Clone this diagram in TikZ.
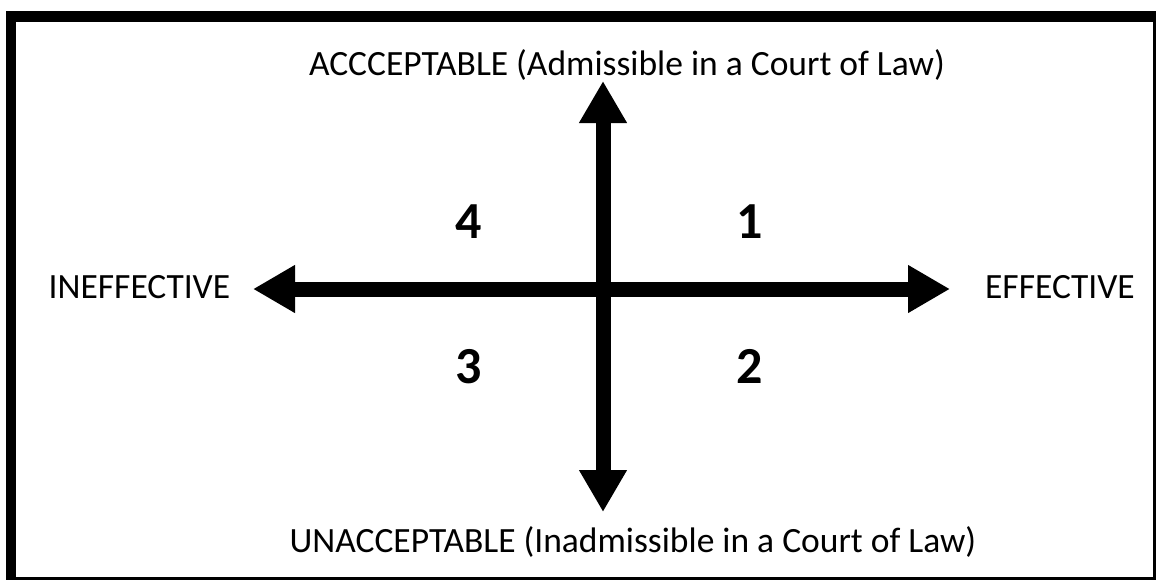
\documentclass[tikz,border=0pt]{standalone}
\usepackage{fontspec}
\setmainfont{Carlito}
\usetikzlibrary{arrows.meta}

\begin{document}
\begin{tikzpicture}[
    x=1pt, y=-1pt,
    axis/.style={line width=15pt, {Triangle[width=45pt,length=42pt]}-{Triangle[width=45pt,length=42pt]}},
    every node/.style={font=\fontsize{35.5}{40}\selectfont, inner sep=0pt, anchor=base},
    quadrant/.style={font=\fontsize{52}{58}\selectfont\bfseries},
]

\useasboundingbox (0,0) rectangle (1157,581);

% ---------- frame: heavy top and left edges, thin right and bottom ----------
\draw[line width=3pt] (7.5,12.5) rectangle (1154.5,578.5);
\fill (6,11) rectangle (1156,22);
\fill (6,11) rectangle (16,580);

% ---------- the two axes ----------
\coordinate (origin) at (603,289);
\coordinate (west)  at (253,289);
\coordinate (east)  at (950,289);
\coordinate (north) at (603,81);
\coordinate (south) at (603,512);

\draw[axis] (west) -- (east);
\draw[axis] (north) -- (south);

% ---------- axis labels ----------
\node (acc)   at (627,75)    {ACCCEPTABLE (Admissible in a Court of Law)};
\node (unacc) at (633,552)   {UNACCEPTABLE (Inadmissible in a Court of Law)};
\node (ineff) at (139.5,298) {INEFFECTIVE};
\node (eff)   at (1060,298)  {EFFECTIVE};

% ---------- quadrant numbers ----------
\node[quadrant] (q1) at (750,238) {1};
\node[quadrant] (q2) at (750,383) {2};
\node[quadrant] (q3) at (469,383) {3};
\node[quadrant] (q4) at (469,238) {4};

\end{tikzpicture}
\end{document}
